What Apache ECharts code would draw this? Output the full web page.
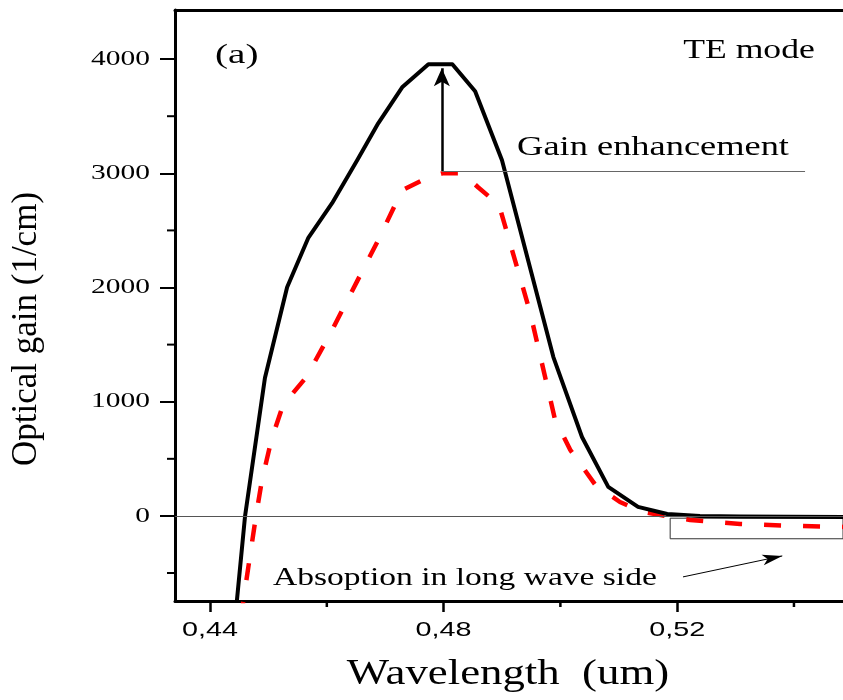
<!DOCTYPE html>
<html>
<head>
<meta charset="utf-8">
<script src="https://cdn.jsdelivr.net/npm/echarts@6/dist/echarts.min.js"></script>
<style>
  html, body { margin: 0; padding: 0; background: #fff; }
  #chart { width: 843px; height: 700px; }
</style>
</head>
<body>
<div id="chart"></div>
<script>
// Optical gain spectra, TE mode: enhanced structure (solid) vs reference (dashed)
const wavelengthEnhanced = [0.4443, 0.4460, 0.4494, 0.4532, 0.4568, 0.4609, 0.4652, 0.4688,
  0.4729, 0.4774, 0.4815, 0.4854, 0.4900, 0.4988, 0.5037, 0.5082, 0.5133, 0.5183, 0.5239,
  0.5308, 0.5394, 0.5484];
const gainEnhanced = [-900, 0, 1207, 2003, 2432, 2738, 3115, 3438,
  3753, 3955, 3955, 3718, 3115, 1391, 691, 254, 79, 17, 0,
  -4, -7, -10];

const wavelengthReference = [0.4453, 0.4458, 0.4470, 0.4479, 0.4489, 0.4505, 0.4525, 0.4565,
  0.4609, 0.4652, 0.4688, 0.4729, 0.4774, 0.4799, 0.4833, 0.4859, 0.4895, 0.4948, 0.4991,
  0.5000, 0.5017, 0.5060, 0.5102, 0.5140, 0.5222, 0.5308, 0.5394, 0.5484];
const gainReference = [-900, -709, -297, 9, 315, 665, 971, 1216,
  1627, 2056, 2415, 2852, 2966, 3001, 3001, 2878, 2721, 1785, 840,
  752, 577, 271, 122, 35, -35, -70, -87, -96];

const xTickValues = [0.44, 0.48, 0.52];
const xMinorTickValues = [0.46, 0.50, 0.54];
const yTickValues = [0, 1000, 2000, 3000, 4000];
const yMinorTickValues = [-500, 500, 1500, 2500, 3500];
const xRange = [0.434, 0.5484];
const yRange = [-745, 4430];

// Annotation anchors (data coordinates)
const enhancementArrow = { x: 0.4797, from: 3020, to: 3920 };
const enhancementGuide = { y: 3020, xEnd: 0.5419 };
const absorptionBox = { x0: 0.5188, x1: 0.5484, y0: -20, y1: -200 };
const absorptionArrow = { x0: 0.5210, y0: -534, x1: 0.5380, y1: -350 };

const SERIF = '"Liberation Serif", "Times New Roman", serif';
const SANS = '"Liberation Sans", Arial, sans-serif';

const chart = echarts.init(document.getElementById('chart'), null, { renderer: 'canvas' });

const toPairs = (xs, ys) => xs.map((x, i) => [x, ys[i]]);

chart.setOption({
  animation: false,
  backgroundColor: '#fff',
  grid: { left: 175, top: 10, width: 668, height: 591, containLabel: false },
  xAxis: [{
    type: 'value', min: xRange[0], max: xRange[1], position: 'bottom',
    axisLine: { show: true, onZero: false, lineStyle: { color: '#000', width: 3 } },
    axisTick: { show: true, customValues: xTickValues, length: 11, lineStyle: { color: '#000', width: 2.5 } },
    axisLabel: { show: false },
    splitLine: { show: false }
  }, {
    type: 'value', min: xRange[0], max: xRange[1], position: 'top',
    axisLine: { show: true, onZero: false, lineStyle: { color: '#000', width: 3 } },
    axisTick: { show: false }, axisLabel: { show: false }, splitLine: { show: false }
  }],
  yAxis: [{
    type: 'value', min: yRange[0], max: yRange[1], position: 'left',
    axisLine: { show: true, onZero: false, lineStyle: { color: '#000', width: 3 } },
    axisTick: { show: true, customValues: yTickValues, length: 15, lineStyle: { color: '#000', width: 2 } },
    axisLabel: { show: false },
    splitLine: { show: false }
  }],
  series: [{
    name: 'reference',
    type: 'line',
    xAxisIndex: 0, yAxisIndex: 0,
    data: toPairs(wavelengthReference, gainReference),
    showSymbol: false, symbol: 'none', clip: true, z: 2,
    lineStyle: { color: '#ff0000', width: 4.5, type: [17, 22], join: 'round' },
    markArea: {
      silent: true,
      itemStyle: { color: 'rgba(0,0,0,0)', borderColor: '#333', borderWidth: 1 },
      data: [[
        { coord: [absorptionBox.x0, absorptionBox.y0] },
        { coord: [absorptionBox.x1, absorptionBox.y1] }
      ]]
    }
  }, {
    name: 'enhanced',
    type: 'line',
    xAxisIndex: 0, yAxisIndex: 0,
    data: toPairs(wavelengthEnhanced, gainEnhanced),
    showSymbol: false, symbol: 'none', clip: true, z: 3,
    lineStyle: { color: '#000', width: 4, join: 'round' },
    markLine: {
      silent: true,
      symbol: ['none', 'none'],
      label: { show: false },
      emphasis: { disabled: true },
      data: [
        { yAxis: 0, lineStyle: { color: '#555', width: 1.2, type: 'solid' } },
        [
          { coord: [enhancementArrow.x, enhancementGuide.y], lineStyle: { color: '#666', width: 1.2, type: 'solid' } },
          { coord: [enhancementGuide.xEnd, enhancementGuide.y] }
        ],
        [
          { coord: [enhancementArrow.x, enhancementArrow.from], symbol: 'none', lineStyle: { color: '#000', width: 2.5, type: 'solid' } },
          { coord: [enhancementArrow.x, enhancementArrow.to], symbol: 'arrow', symbolSize: [12, 18] }
        ],
        [
          { coord: [absorptionArrow.x0, absorptionArrow.y0], symbol: 'none', lineStyle: { color: '#000', width: 1, type: 'solid' } },
          { coord: [absorptionArrow.x1, absorptionArrow.y1], symbol: 'arrow', symbolSize: [8, 20] }
        ]
      ]
    }
  }]
});

// Tick labels, minor ticks and texts placed through the axis scales
const finder = { xAxisIndex: 0, yAxisIndex: 0 };
const toPx = (x, y) => chart.convertToPixel(finder, [x, y]);
const gridBottom = toPx(xRange[0], yRange[0])[1];
const gridLeft = toPx(xRange[0], yRange[0])[0];

function text(str, x, y, opt) {
  return {
    type: 'text', x: x, y: y, silent: true,
    scaleX: opt.sx || 1, rotation: opt.rot || 0, z: 10,
    style: {
      text: str, font: opt.font, fill: '#000',
      align: opt.align || 'left', textAlign: opt.align || 'left',
      verticalAlign: 'middle', textVerticalAlign: 'middle'
    }
  };
}

const elements = [];

xTickValues.forEach(v => {
  const p = toPx(v, 0);
  elements.push(text(v.toFixed(2).replace('.', ','), p[0], 630.5,
    { font: '21px ' + SANS, sx: 1.37, align: 'center' }));
});
yTickValues.forEach(v => {
  const p = toPx(xRange[0], v);
  elements.push(text(String(v), 150, p[1], { font: '22px ' + SERIF, sx: 1.34, align: 'right' }));
});
xMinorTickValues.forEach(v => {
  const p = toPx(v, 0);
  elements.push({ type: 'line', silent: true, z: 10,
    shape: { x1: p[0], y1: gridBottom, x2: p[0], y2: gridBottom + 6 },
    style: { stroke: '#000', lineWidth: 2.5 } });
});
yMinorTickValues.forEach(v => {
  const p = toPx(xRange[0], v);
  elements.push({ type: 'line', silent: true, z: 10,
    shape: { x1: gridLeft - 8, y1: p[1], x2: gridLeft, y2: p[1] },
    style: { stroke: '#000', lineWidth: 2 } });
});

// Panel annotations
const pa = toPx(0.44086, 4029);
elements.push(text('(a)', pa[0], pa[1], { font: '27px ' + SERIF, sx: 1.45 }));
const pte = toPx(0.52103, 4068);
elements.push(text('TE mode', pte[0], pte[1], { font: '27px ' + SERIF, sx: 1.32 }));
const pg = toPx(0.49259, 3224);
elements.push(text('Gain enhancement', pg[0], pg[1], { font: '28px ' + SERIF, sx: 1.3 }));
const pab = toPx(0.45079, -547);
elements.push(text('Absoption in long wave side', pab[0], pab[1], { font: '26px ' + SERIF, sx: 1.29 }));

// Axis titles
elements.push(text('Wavelength  (um)', 508, 675, { font: '35px ' + SERIF, sx: 1.28, align: 'center' }));
elements.push(text('Optical gain (1/cm)', 27, 329, { font: '35px ' + SERIF, rot: Math.PI / 2, align: 'center' }));

chart.setOption({ graphic: { elements: elements } });
</script>
</body>
</html>
